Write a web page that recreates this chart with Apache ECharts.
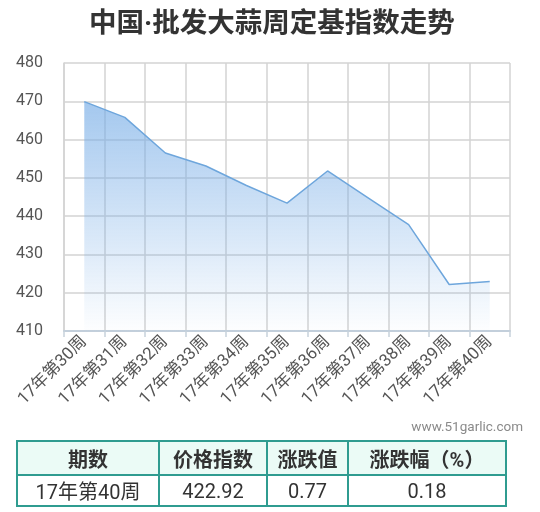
<!DOCTYPE html>
<html>
<head>
<meta charset="utf-8" />
<title>中国·批发大蒜周定基指数走势</title>
<script type="text/javascript" src="https://cdn.jsdelivr.net/npm/echarts@6/dist/echarts.min.js"></script>
<style>
    body { margin: 0; background: #fff; font-family: Roboto, "Noto Sans CJK SC", sans-serif; }
    #main { position: absolute; left: 0; top: 0; width: 540px; height: 512px; }
    #tb { position: absolute; left: 16px; top: 440px; border-collapse: collapse; color: #333; font-size: 20px; }
    #tb td { border: 2px solid #2f9c90; text-align: center; padding: 0; }
    #tb tr.hd td { background: #ebfbf6; font-weight: bold; height: 32px; }
    #tb tr.bd td { height: 29px; }
</style>
</head>
<body>
<div id="main"></div>
<table id="tb">
    <tr class="hd"><td style="width:140px">期数</td><td style="width:106px">价格指数</td><td style="width:79px">涨跌值</td><td style="width:156px">涨跌幅（%）</td></tr>
    <tr class="bd"><td>17年第40周</td><td>422.92</td><td>0.77</td><td>0.18</td></tr>
</table>
<script type="text/javascript">
    // 周次和定基指数
    var weeks = ['17年第30周','17年第31周','17年第32周','17年第33周','17年第34周','17年第35周',
                 '17年第36周','17年第37周','17年第38周','17年第39周','17年第40周'];
    var indexValues = [469.9, 465.8, 456.5, 453.1, 448.0, 443.4, 451.8, 444.8, 437.8, 422.15, 422.92];
    var yTicks = [410, 420, 430, 440, 450, 460, 470, 480];

    var myChart = echarts.init(document.getElementById('main'));
    var option = {
        animation: false,
        title: {
            text: '中国·批发大蒜周定基指数走势',
            left: 84,
            top: 6,
            textStyle: { fontSize: 27.5, fontWeight: 'bold', color: '#333', fontFamily: 'Roboto, "Noto Sans CJK SC"' }
        },
        grid: { left: 64, right: 30, top: 63, bottom: 181 },
        xAxis: {
            type: 'category',
            data: weeks,
            boundaryGap: true,
            axisLine: { lineStyle: { color: '#c3cfdb', width: 2 } },
            axisTick: { show: true, length: 6, lineStyle: { color: '#c8d2dc', width: 1.5 } },
            axisLabel: {
                rotate: 45, interval: 0, margin: 8, fontSize: 17, color: '#555',
                fontFamily: 'Roboto, "Noto Sans CJK SC"'
            },
            splitLine: { show: true, lineStyle: { color: '#d3d3d3', width: 1.5 } }
        },
        yAxis: {
            type: 'value',
            min: yTicks[0],
            max: yTicks[yTicks.length - 1],
            interval: 10,
            axisLine: { show: true, lineStyle: { color: '#d3d3d3', width: 1.5 } },
            axisTick: { show: false },
            axisLabel: { fontSize: 16, color: '#555', margin: 21, fontFamily: 'Roboto' },
            splitLine: { show: true, lineStyle: { color: '#d3d3d3', width: 1.5 } }
        },
        graphic: [{
            type: 'text',
            right: 17,
            top: 421,
            style: { text: 'www.51garlic.com', fontSize: 13.5, fill: '#8a8a8a', fontFamily: 'Roboto' }
        }],
        series: [{
            type: 'line',
            data: indexValues,
            symbol: 'none',
            lineStyle: { color: '#6ea6dc', width: 1.5 },
            areaStyle: {
                color: new echarts.graphic.LinearGradient(0, 0, 0, 1, [
                    { offset: 0, color: 'rgba(118,172,230,0.95)' },
                    { offset: 1, color: 'rgba(118,172,230,0.02)' }
                ])
            }
        }]
    };
    myChart.setOption(option);
</script>
</body>
</html>
